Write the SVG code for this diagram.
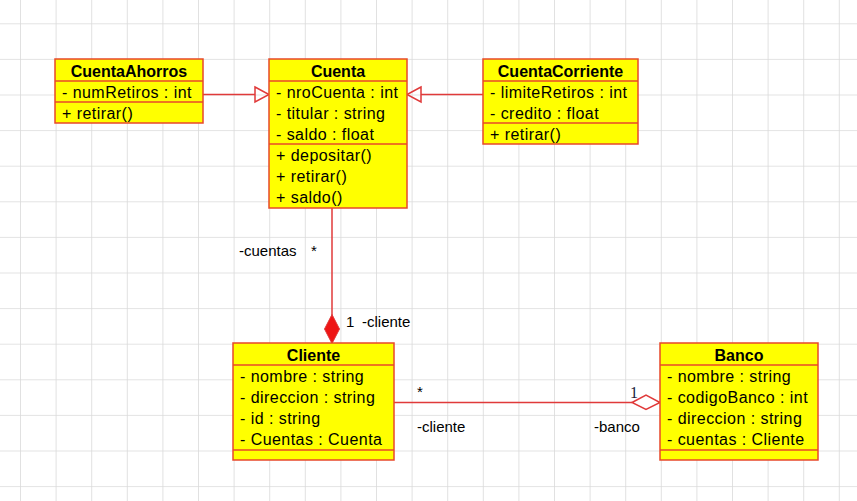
<svg xmlns="http://www.w3.org/2000/svg" width="857" height="501" viewBox="0 0 857 501">
<style>
.box{fill:#FFFF00;stroke:#E8482A;stroke-width:1.5}
.sep{stroke:#E8482A;stroke-width:1.5}
.hd{font-family:"Liberation Sans",Arial,sans-serif;font-size:16px;font-weight:bold;text-anchor:middle;fill:#000}
.at{font-family:"Liberation Sans",Arial,sans-serif;font-size:16px;letter-spacing:0.45px;fill:#000}
.lb{font-family:"Liberation Sans",Arial,sans-serif;font-size:15px;fill:#000}
.ln{stroke:#E03A3A;stroke-width:1.5;fill:none}
</style>
<defs>
<pattern id="grid" x="20" y="23.3" width="35.6" height="35.6" patternUnits="userSpaceOnUse">
<path d="M0 0V35.6M0 0H35.6" stroke="#DADADA" stroke-width="1.6" fill="none"/>
</pattern>
</defs>
<rect width="857" height="501" fill="#FFFFFF"/>
<rect width="857" height="501" fill="url(#grid)"/>

<g id="connectors">
<line class="ln" x1="203" y1="94.5" x2="255" y2="94.5"/>
<polygon class="ln" fill="#FFFFFF" points="255,87 269,94.5 255,102"/>
<line class="ln" x1="483" y1="94.5" x2="421" y2="94.5"/>
<polygon class="ln" fill="#FFFFFF" points="421,87 407,94.5 421,102"/>
<line class="ln" x1="332" y1="208" x2="332" y2="315"/>
<polygon points="332,314.5 339.5,329 332,343.5 324.5,329" fill="#EE1515" stroke="#E03A3A" stroke-width="1"/>
<line class="ln" x1="394" y1="402.5" x2="632" y2="402.5"/>
<polygon class="ln" fill="#FFFFFF" points="632,402.5 646,395 660,402.5 646,409.5"/>
<text class="lb" x="239" y="256">-cuentas</text>
<text class="lb" x="311" y="256">*</text>
<text class="lb" x="346" y="327">1</text>
<text class="lb" x="362" y="327">-cliente</text>
<text class="lb" x="417" y="397">*</text>
<text class="lb" x="417" y="432">-cliente</text>
<text class="lb" x="594" y="432">-banco</text>
<text x="630" y="398" font-family="'Liberation Serif',serif" font-size="16" fill="#1A1A3A">1</text>
</g>

<g id="CuentaAhorros">
<rect class="box" x="55" y="59" width="148" height="64"/>
<line class="sep" x1="55" y1="81" x2="203" y2="81"/>
<line class="sep" x1="55" y1="102" x2="203" y2="102"/>
<text class="hd" x="129" y="76.7">CuentaAhorros</text>
<text class="at" x="62" y="97.5">- numRetiros : int</text>
<text class="at" x="62" y="118.5">+ retirar()</text>
</g>

<g id="Cuenta">
<rect class="box" x="269" y="59" width="138" height="149"/>
<line class="sep" x1="269" y1="81" x2="407" y2="81"/>
<line class="sep" x1="269" y1="144" x2="407" y2="144"/>
<text class="hd" x="338" y="76.7">Cuenta</text>
<text class="at" x="276" y="97.5">- nroCuenta : int</text>
<text class="at" x="276" y="118.5">- titular : string</text>
<text class="at" x="276" y="139.5">- saldo : float</text>
<text class="at" x="276" y="160.5">+ depositar()</text>
<text class="at" x="276" y="181.5">+ retirar()</text>
<text class="at" x="276" y="202.5">+ saldo()</text>
</g>

<g id="CuentaCorriente">
<rect class="box" x="483" y="59" width="155" height="85"/>
<line class="sep" x1="483" y1="81" x2="638" y2="81"/>
<line class="sep" x1="483" y1="123" x2="638" y2="123"/>
<text class="hd" x="560.5" y="76.7">CuentaCorriente</text>
<text class="at" x="490" y="97.5">- limiteRetiros : int</text>
<text class="at" x="490" y="118.5">- credito : float</text>
<text class="at" x="490" y="139.5">+ retirar()</text>
</g>

<g id="Cliente">
<rect class="box" x="233" y="343" width="161" height="117"/>
<line class="sep" x1="233" y1="365" x2="394" y2="365"/>
<line class="sep" x1="233" y1="450" x2="394" y2="450"/>
<text class="hd" x="313.5" y="360.7">Cliente</text>
<text class="at" x="240" y="381.5">- nombre : string</text>
<text class="at" x="240" y="402.5">- direccion : string</text>
<text class="at" x="240" y="423.5">- id : string</text>
<text class="at" x="240" y="444.5">- Cuentas : Cuenta</text>
</g>

<g id="Banco">
<rect class="box" x="660" y="343" width="158" height="117"/>
<line class="sep" x1="660" y1="365" x2="818" y2="365"/>
<line class="sep" x1="660" y1="450" x2="818" y2="450"/>
<text class="hd" x="739" y="360.7">Banco</text>
<text class="at" x="667" y="381.5">- nombre : string</text>
<text class="at" x="667" y="402.5">- codigoBanco : int</text>
<text class="at" x="667" y="423.5">- direccion : string</text>
<text class="at" x="667" y="444.5">- cuentas : Cliente</text>
</g>
</svg>
